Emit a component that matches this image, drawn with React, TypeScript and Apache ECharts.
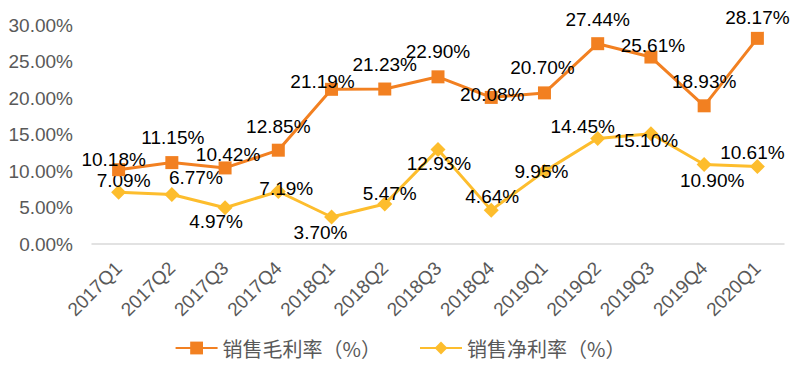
import React, { useEffect, useRef } from "react";
import * as echarts from "echarts";

const categories = ["2017Q1", "2017Q2", "2017Q3", "2017Q4", "2018Q1", "2018Q2", "2018Q3", "2018Q4", "2019Q1", "2019Q2", "2019Q3", "2019Q4", "2020Q1"];
const grossMargin = [10.18, 11.15, 10.42, 12.85, 21.19, 21.23, 22.9, 20.08, 20.7, 27.44, 25.61, 18.93, 28.17];
const netMargin = [7.09, 6.77, 4.97, 7.19, 3.7, 5.47, 12.93, 4.64, 9.95, 14.45, 15.1, 10.9, 10.61];
const seriesNames = ["销售毛利率（%）", "销售净利率（%）"];

// label layout offsets (px) relative to the point
const grossOffsets = [[-5, -10], [1, -25], [3, -13], [0, -24], [-9, -8], [0, -25], [0, -25], [1, -3], [-2, -25], [0, -24], [2, -12], [0, -24], [0, -21]];
const netOffsets = [[5, -12], [24, -17], [-9, 14], [8, -3], [-11, 16], [5, -11], [1, 14], [1, -14], [-3, 0], [-15, -12], [-5, 7], [8, 16], [-5, -14]];

const ORANGE = "#F28021";
const YELLOW = "#FDBD2D";

function buildData(values: number[], offsets: number[][]) {
  return values.map((v, i) => ({
    value: v,
    label: { offset: offsets[i] },
  }));
}

export default function App() {
  const ref = useRef<HTMLDivElement>(null);
  useEffect(() => {
    if (!ref.current) return;
    const chart = echarts.init(ref.current, undefined, { renderer: "svg" });
    const labelCommon = {
      show: true,
      position: "inside",
      align: "center",
      verticalAlign: "middle",
      color: "#000",
      fontSize: 19,
      fontFamily: "Liberation Sans, Arial, sans-serif",
      formatter: (p: any) => Number(p.value).toFixed(2) + "%",
    };
    chart.setOption({
      animation: false,
      backgroundColor: "#fff",
      grid: { left: 92, right: 16, top: 25, bottom: 125, containLabel: false },
      legend: {
        bottom: 6,
        left: "center",
        itemWidth: 42,
        itemHeight: 16,
        itemGap: 38,
        textStyle: { fontSize: 20, color: "#595959", fontFamily: "Noto Sans CJK SC, sans-serif" },
        data: seriesNames,
      },
      xAxis: {
        type: "category",
        data: categories,
        boundaryGap: true,
        axisLine: { show: true, lineStyle: { color: "#D9D9D9", width: 1.5 } },
        axisTick: { show: false },
        axisLabel: {
          rotate: 45,
          margin: 21,
          interval: 0,
          fontSize: 19,
          color: "#595959",
          fontFamily: "Liberation Sans, Arial, sans-serif",
        },
      },
      yAxis: {
        type: "value",
        min: 0,
        max: 30,
        interval: 5,
        axisLine: { show: false },
        axisTick: { show: false },
        splitLine: { show: false },
        axisLabel: {
          margin: 19,
          fontSize: 19,
          color: "#595959",
          fontFamily: "Liberation Sans, Arial, sans-serif",
          formatter: (v: number) => v.toFixed(2) + "%",
        },
      },
      series: [
        {
          name: seriesNames[0],
          type: "line",
          data: buildData(grossMargin, grossOffsets),
          symbol: "rect",
          symbolSize: 13,
          itemStyle: { color: ORANGE },
          lineStyle: { color: ORANGE, width: 3 },
          label: labelCommon,
          z: 3,
        },
        {
          name: seriesNames[1],
          type: "line",
          data: buildData(netMargin, netOffsets),
          symbol: "diamond",
          symbolSize: 15,
          itemStyle: { color: YELLOW },
          lineStyle: { color: YELLOW, width: 3 },
          label: labelCommon,
          z: 2,
        },
      ],
    });
    return () => chart.dispose();
  }, []);
  return <div ref={ref} style={{ width: 800, height: 369, position: "absolute", left: 0, top: 0 }} />;
}
